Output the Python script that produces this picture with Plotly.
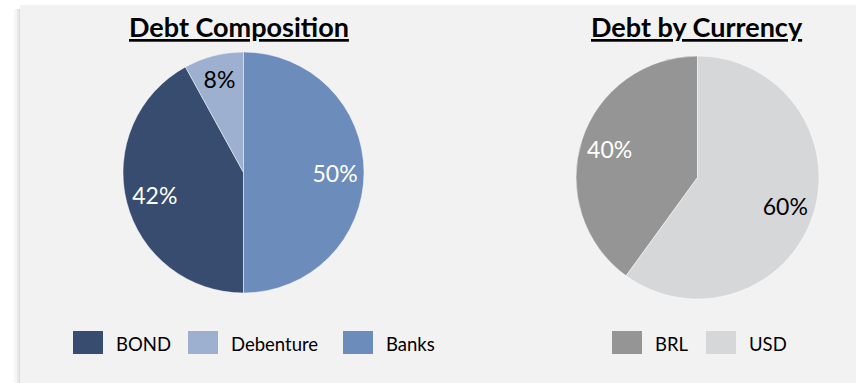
import plotly.graph_objects as go

W, H = 856, 383

comp_labels = ["BOND", "Debenture", "Banks"]
comp_values = [42, 8, 50]
comp_colors = ["#374c6f", "#9db0cf", "#6c8cbb"]
comp_text_colors = ["white", "black", "white"]

cur_labels = ["BRL", "USD"]
cur_values = [40, 60]
cur_colors = ["#959595", "#d6d7d9"]
cur_text_colors = ["white", "black"]

titles = ["Debt Composition", "Debt by Currency"]

FONT = "Lato"
BG = "#f2f2f2"


def px(x):
    return x / W


def py(y):
    return 1 - y / H


fig = go.Figure()

pies = [
    (comp_labels, comp_values, comp_colors, comp_text_colors, 180, [123, 364], [293, 52]),
    (cur_labels, cur_values, cur_colors, cur_text_colors, 216, [576, 819], [299, 56]),
]
for labels, values, colors, tcolors, rot, dx, dy in pies:
    dom = dict(x=[px(dx[0]), px(dx[1])], y=[py(dy[0]), py(dy[1])])
    # the pie itself
    fig.add_trace(go.Pie(
        labels=labels, values=values, sort=False, direction="clockwise",
        rotation=rot, domain=dom,
        marker=dict(colors=colors, line=dict(color="rgba(255,255,255,0.6)", width=0.8)),
        textinfo="none", showlegend=False, hoverinfo="label+percent",
    ))
    # transparent ring carrying the percentage labels near the outer edge
    fig.add_trace(go.Pie(
        labels=labels, values=values, sort=False, direction="clockwise",
        rotation=rot, domain=dom, hole=0.52,
        marker=dict(colors=["rgba(0,0,0,0)"] * len(values), line=dict(width=0)),
        textinfo="percent", texttemplate="%{percent:.0%}", textposition="inside",
        insidetextorientation="horizontal",
        insidetextfont=dict(family=FONT, size=23, color=tcolors),
        showlegend=False, hoverinfo="skip",
    ))

shapes = []
# shadow on the left of the panel
shadow = [(13, "#fbfbfb"), (15, "#f4f4f4"), (17, "#e9e9e9"), (18.5, "#dcdcdc")]
for i, (x0, c) in enumerate(shadow):
    x1 = shadow[i + 1][0] if i + 1 < len(shadow) else 20
    shapes.append(dict(type="rect", xref="paper", yref="paper", x0=px(x0), x1=px(x1),
                       y0=py(H), y1=py(9), fillcolor=c, line=dict(width=0), layer="below"))
shapes.append(dict(type="rect", xref="paper", yref="paper", x0=px(20), x1=1,
                   y0=0, y1=py(5), fillcolor=BG, line=dict(width=0), layer="below"))

annotations = []
title_x = [239, 697]
for t, x in zip(titles, title_x):
    annotations.append(dict(text=f"<b><u>{t}</u></b>", x=px(x), y=py(26), xref="paper", yref="paper",
                            xanchor="center", yanchor="middle", showarrow=False,
                            font=dict(family=FONT, size=27, color="black")))

# legends
leg_items = [
    (comp_labels, comp_colors, [73, 188, 343]),
    (cur_labels, cur_colors, [612, 706]),
]
for labels, colors, xs in leg_items:
    for lab, col, x in zip(labels, colors, xs):
        shapes.append(dict(type="rect", xref="paper", yref="paper", x0=px(x), x1=px(x + 30),
                           y0=py(354), y1=py(331), fillcolor=col, line=dict(width=0)))
        annotations.append(dict(text=lab, x=px(x + 41), y=py(344), xref="paper", yref="paper",
                                xanchor="left", yanchor="middle", showarrow=False,
                                font=dict(family=FONT, size=18.5, color="black")))

fig.update_layout(
    width=W, height=H, margin=dict(l=0, r=0, t=0, b=0),
    paper_bgcolor="white", plot_bgcolor="white",
    shapes=shapes, annotations=annotations, showlegend=False,
)

fig.write_html("out.html")
